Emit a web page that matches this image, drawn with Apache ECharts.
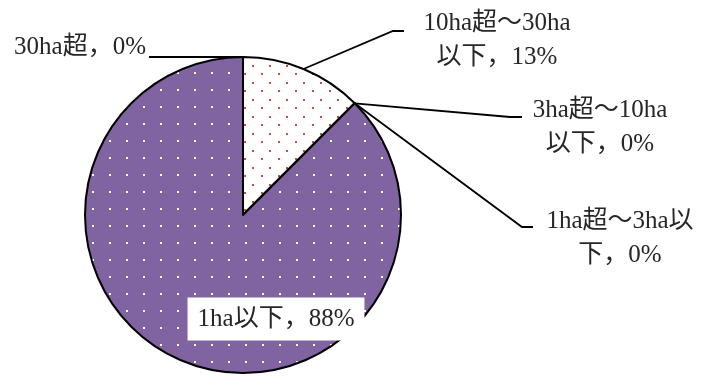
<!DOCTYPE html>
<html><head><meta charset="utf-8">
<script src="https://cdn.jsdelivr.net/npm/echarts@6/dist/echarts.min.js"></script>
<style>html,body{margin:0;padding:0;background:#fff}#c{width:702px;height:376px}</style>
</head><body><div id="c"></div>
<script>
// Data
const categories = ["30ha超", "10ha超～30ha以下", "3ha超～10ha以下", "1ha超～3ha以下", "1ha以下"];
const values = [0, 12.5, 0, 0, 87.5];

// Styling (label wrap position = number of name chars on first line; 0 = no wrap)
const labelWrap = [0, 10, 9, 9, 0];
const labelPlace = [
  {x: 146, y: 47, align: 'right', line: [[196, 57], [149, 57]]},
  {x: 497, y: 40, align: 'center', line: [[393, 31], [404, 31]]},
  {x: 600, y: 127, align: 'center', line: [[510, 117], [522, 117]]},
  {x: 620, y: 238, align: 'center', line: [[522, 227], [533, 227]]},
  {x: 276, y: 319, align: 'center', line: null}
];

function makePattern(bg, fg, dots) {
  const c = document.createElement('canvas');
  c.width = 17; c.height = 17;
  const g = c.getContext('2d');
  g.fillStyle = bg; g.fillRect(0, 0, 17, 17);
  g.fillStyle = fg;
  dots.forEach(d => g.fillRect(d[0], d[1], 2, 2));
  return {image: c, repeat: 'repeat'};
}
const purplePat = makePattern('#8064A2', '#ffffff', [[7, 4]]);
const redPat = makePattern('#ffffff', '#C0504D', [[14, 14], [6, 5]]);
const fills = [purplePat, redPat, purplePat, purplePat, purplePat];

const font = "'Liberation Serif', 'Noto Sans CJK JP', serif";
const chart = echarts.init(document.getElementById('c'), null, {renderer: 'canvas'});
chart.setOption({
  animation: false,
  series: [{
    type: 'pie',
    center: [243, 215],
    radius: 158,
    startAngle: 90,
    clockwise: true,
    avoidLabelOverlap: false,
    emphasis: {disabled: true},
    itemStyle: {borderColor: '#000', borderWidth: 2},
    label: {
      show: true,
      position: 'outside',
      fontFamily: font,
      fontSize: 25,
      lineHeight: 34,
      color: '#262626',
      formatter: p => {
        const w = labelWrap[p.dataIndex];
        const n = p.name;
        return (w ? n.slice(0, w) + '\n' + n.slice(w) : n) + '，' + Math.round(p.percent) + '%';
      }
    },
    labelLine: {show: true, length: 20, length2: 10, lineStyle: {color: '#000', width: 1.8}},
    labelLayout: p => {
      const s = labelPlace[p.dataIndex];
      const r = {x: s.x, y: s.y, align: s.align, verticalAlign: 'middle'};
      if (s.line && p.labelLinePoints) {
        r.labelLinePoints = [p.labelLinePoints[0], s.line[0], s.line[1]];
      }
      return r;
    },
    data: categories.map((name, i) => {
      const d = {name: name, value: values[i], itemStyle: {color: fills[i]}};
      if (i === 4) {
        d.label = {position: 'inside', backgroundColor: '#fff', padding: [8, 10], lineHeight: 27};
        d.labelLine = {show: false};
      }
      return d;
    })
  }]
});
</script></body></html>
